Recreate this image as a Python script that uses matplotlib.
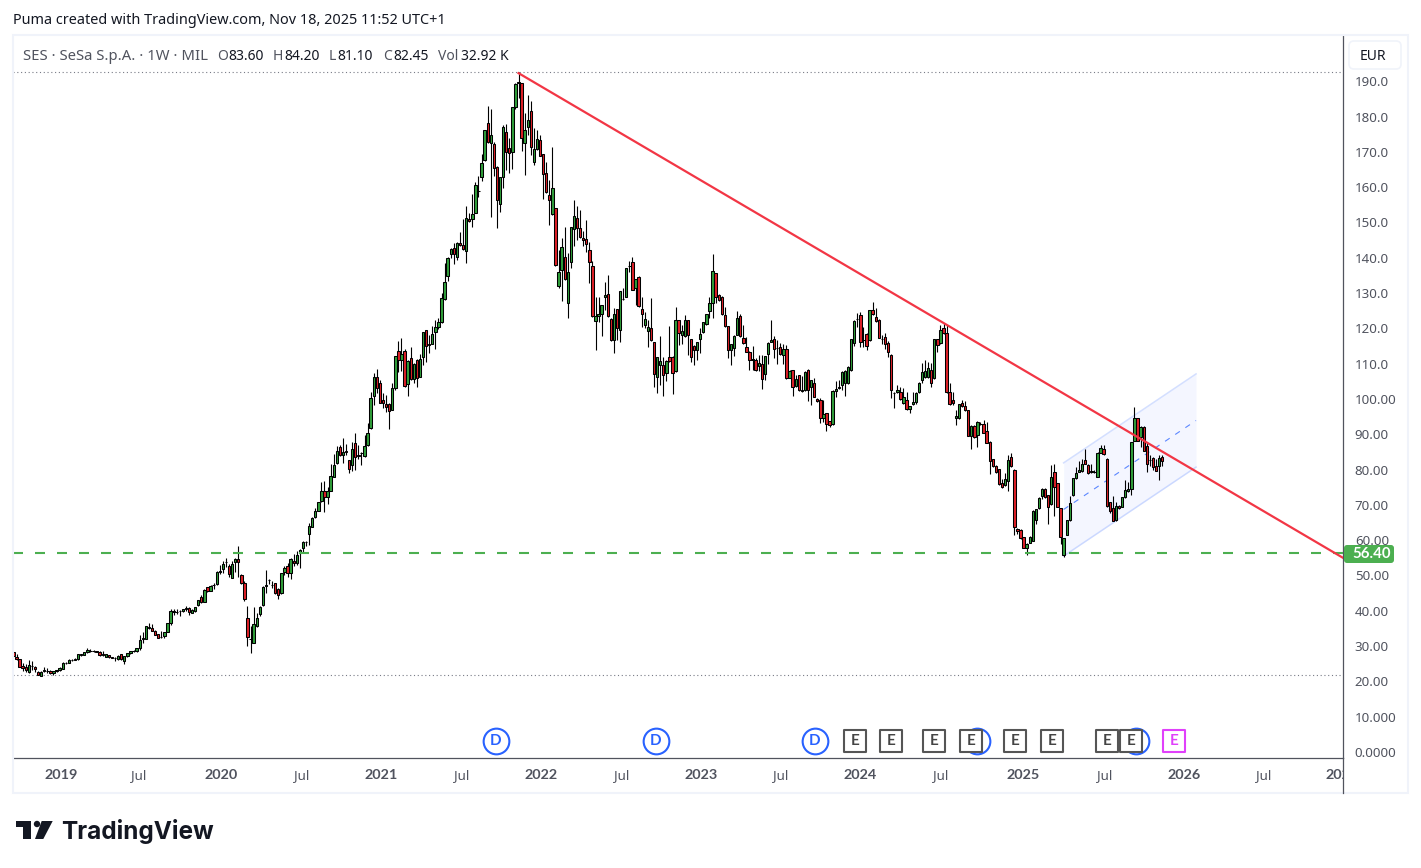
import matplotlib
matplotlib.use('Agg')
import matplotlib.pyplot as plt
import matplotlib.dates as mdates
import numpy as np
import pandas as pd
from matplotlib.lines import Line2D
from matplotlib.markers import MarkerStyle
from matplotlib.patches import Circle, FancyBboxPatch, Polygon, Rectangle
from matplotlib.transforms import Bbox, IdentityTransform, TransformedBbox

plt.rcParams['font.family'] = ['Noto Sans', 'DejaVu Sans']
BOLD_FONT = ['Lato', 'DejaVu Sans']

W, H = 1421, 868

# Weekly OHLC, oldest first
opens = [
    29.0, 28.2, 26.8, 26.3, 24.3, 24.2, 22.8, 24.3, 24.2, 22.8, 21.6, 23.0, 23.0, 23.0, 22.3,
    22.9, 23.1, 23.6, 25.2, 25.3, 26.0, 26.2, 26.3, 27.5, 27.5, 28.2, 28.6, 28.6, 28.5, 28.4,
    27.9, 27.0, 27.4, 26.8, 26.6, 26.4, 27.7, 25.9, 27.1, 28.0, 28.6, 28.6, 29.5, 32.0, 32.0,
    35.2, 35.0, 34.4, 33.3, 32.6, 32.8, 34.0, 36.4, 39.7, 39.7, 39.8, 39.8, 40.5, 40.9, 39.5,
    39.8, 41.5, 43.9, 42.6, 46.6, 45.7, 47.2, 47.5, 51.0, 51.9, 53.8, 52.8, 49.4, 53.9, 54.8,
    50.1, 47.8, 38.0, 31.9, 31.0, 35.7, 39.0, 41.5, 47.1, 48.6, 47.2, 47.8, 46.1, 44.9, 51.0,
    52.6, 50.6, 54.1, 53.6, 56.3, 57.9, 59.6, 61.8, 63.8, 66.6, 68.4, 71.2, 73.8, 72.1, 74.0,
    78.0, 81.8, 86.5, 84.0, 85.4, 82.6, 81.2, 87.4, 84.0, 84.8, 83.8, 86.9, 91.7, 100.8, 106.1,
    104.4, 99.6, 98.7, 98.7, 97.0, 103.0, 113.5, 111.0, 113.5, 104.3, 111.5, 105.6, 111.0, 106.3, 112.0,
    119.4, 115.5, 115.7, 118.9, 120.3, 121.7, 128.3, 134.8, 141.2, 142.9, 140.1, 144.1, 143.5, 141.8, 151.1,
    150.9, 152.8, 159.0, 162.8, 167.7, 178.1, 172.4, 172.1, 165.8, 155.1, 163.0, 175.5, 171.0, 170.0, 182.8,
    189.6, 189.4, 172.6, 177.0, 181.5, 167.0, 170.7, 173.3, 169.3, 163.9, 157.7, 152.3, 154.0, 132.0, 136.5,
    140.1, 127.1, 138.7, 148.1, 151.2, 148.3, 145.5, 145.2, 142.1, 137.6, 122.0, 123.4, 124.0, 128.8, 129.6,
    122.6, 116.6, 125.4, 119.5, 128.4, 129.0, 137.8, 138.7, 131.3, 134.5, 125.4, 121.0, 119.2, 120.0, 116.0,
    106.1, 109.7, 109.5, 107.3, 112.0, 112.0, 107.8, 122.3, 118.0, 117.8, 122.3, 116.9, 114.9, 114.0, 116.9,
    118.9, 121.1, 124.8, 127.1, 135.6, 129.4, 129.0, 123.7, 120.6, 114.0, 114.3, 118.2, 123.4, 117.2, 114.7,
    113.4, 111.2, 110.9, 109.3, 109.9, 107.0, 112.7, 116.1, 116.9, 114.4, 114.7, 112.4, 114.1, 106.0, 108.1,
    103.6, 106.7, 102.3, 102.5, 108.1, 103.3, 104.5, 100.1, 99.8, 94.5, 95.9, 93.7, 92.8, 102.2, 103.0,
    103.9, 104.5, 104.5, 108.2, 115.8, 122.7, 123.7, 116.7, 118.3, 116.7, 125.1, 123.2, 122.3, 116.9, 117.5,
    115.8, 112.4, 101.8, 102.0, 102.1, 98.8, 99.6, 97.1, 98.5, 99.1, 101.9, 105.3, 106.2, 106.2, 108.1,
    105.9, 116.9, 115.8, 120.0, 118.6, 101.9, 99.6, 94.5, 94.5, 98.8, 97.9, 96.8, 89.6, 92.3, 89.7,
    92.8, 92.8, 90.9, 87.9, 82.9, 81.0, 80.1, 76.1, 75.6, 76.7, 83.5, 80.0, 63.3, 63.0, 60.8,
    57.9, 59.3, 59.9, 65.6, 69.0, 72.4, 74.5, 72.7, 70.3, 79.2, 76.1, 69.0, 55.9, 61.6, 65.6,
    72.7, 77.5, 79.4, 79.5, 82.6, 81.4, 79.2, 79.3, 78.0, 84.8, 85.7, 83.1, 70.7, 69.0, 65.6,
    69.8, 69.5, 72.1, 73.8, 74.4, 88.2, 94.5, 89.1, 92.2, 86.8, 82.7, 83.4, 80.9, 80.9, 83.6,
]
highs = [
    29.2, 28.3, 27.9, 26.4, 25.2, 25.0, 26.2, 25.8, 24.5, 23.0, 22.9, 24.1, 23.9, 23.1, 23.0,
    23.2, 24.0, 25.4, 25.5, 26.4, 26.3, 26.5, 27.8, 27.9, 28.3, 29.5, 29.3, 28.8, 28.7, 28.6,
    28.6, 27.8, 27.6, 26.9, 27.0, 27.4, 27.8, 27.2, 28.1, 28.7, 28.9, 29.6, 33.2, 34.0, 35.8,
    36.4, 36.2, 34.6, 33.5, 34.2, 34.1, 36.5, 40.6, 40.6, 40.4, 40.1, 40.6, 41.3, 41.1, 40.4,
    41.2, 43.1, 44.5, 46.2, 46.8, 47.2, 48.0, 51.2, 53.0, 54.2, 55.0, 53.3, 54.0, 55.0, 58.3,
    50.5, 48.5, 41.4, 35.7, 41.0, 39.5, 41.3, 46.9, 51.5, 49.0, 48.5, 48.0, 46.4, 50.6, 52.8,
    53.5, 54.9, 56.0, 57.0, 57.6, 59.8, 59.8, 65.0, 66.5, 69.0, 70.8, 76.5, 76.8, 75.0, 81.6,
    84.5, 86.6, 87.0, 89.0, 87.2, 82.8, 87.8, 90.3, 87.0, 85.0, 89.9, 93.1, 102.0, 107.3, 108.5,
    105.5, 101.7, 101.0, 99.0, 104.4, 112.3, 116.5, 117.2, 114.2, 110.9, 114.8, 110.2, 111.2, 112.6, 119.1,
    119.6, 118.0, 120.6, 122.4, 123.0, 130.0, 138.6, 140.3, 142.8, 144.3, 144.5, 147.2, 151.0, 154.6, 152.8,
    158.0, 161.5, 163.1, 169.4, 176.3, 183.0, 182.0, 172.9, 166.0, 163.0, 177.6, 178.0, 173.8, 182.8, 189.6,
    192.7, 189.6, 180.9, 186.1, 184.3, 176.7, 176.2, 174.8, 169.5, 167.2, 162.0, 171.3, 154.2, 142.2, 145.5,
    148.6, 141.3, 148.8, 156.3, 154.7, 153.5, 147.6, 150.7, 144.4, 139.1, 129.0, 129.0, 126.7, 133.0, 135.1,
    122.8, 125.7, 125.6, 130.7, 131.4, 137.2, 139.0, 140.1, 134.1, 134.7, 129.0, 124.7, 122.4, 128.5, 116.2,
    112.0, 117.7, 112.0, 110.9, 120.6, 112.2, 126.0, 122.5, 121.0, 123.7, 122.5, 117.1, 115.2, 116.2, 120.0,
    121.9, 124.2, 129.0, 141.1, 135.8, 129.6, 129.2, 126.0, 120.8, 115.7, 118.0, 124.8, 124.0, 121.0, 117.5,
    113.6, 114.9, 111.5, 112.5, 112.5, 112.3, 116.0, 122.4, 117.9, 116.7, 115.8, 115.5, 115.3, 108.2, 108.3,
    106.8, 106.9, 106.4, 107.8, 108.4, 105.5, 105.9, 100.4, 100.2, 99.7, 96.1, 93.9, 102.4, 105.0, 105.4,
    107.8, 108.1, 109.4, 117.1, 122.4, 124.3, 124.7, 120.3, 118.8, 125.3, 127.4, 125.7, 122.6, 118.0, 118.7,
    116.3, 112.6, 102.0, 104.0, 103.5, 103.0, 102.1, 98.1, 102.0, 102.1, 104.7, 110.1, 111.0, 110.6, 110.1,
    117.1, 117.1, 121.0, 121.5, 121.0, 104.5, 102.1, 96.8, 98.7, 99.7, 99.3, 97.0, 92.5, 92.5, 93.8,
    93.4, 94.0, 93.6, 88.1, 83.1, 81.2, 80.3, 77.3, 79.0, 84.2, 84.8, 80.2, 63.5, 63.2, 61.0,
    59.2, 61.2, 68.6, 68.9, 72.2, 74.7, 74.9, 72.9, 81.3, 81.7, 76.3, 69.2, 60.7, 65.8, 72.6,
    77.7, 80.8, 82.5, 82.9, 85.7, 81.6, 81.7, 79.9, 85.0, 86.9, 86.9, 83.3, 70.9, 72.5, 70.9,
    70.0, 72.3, 77.0, 76.5, 87.9, 97.6, 94.7, 92.4, 92.4, 87.4, 84.1, 83.6, 83.1, 84.1, 84.2,
]
lows = [
    28.0, 26.9, 26.0, 24.1, 22.9, 22.7, 22.4, 23.2, 22.6, 21.8, 21.4, 22.6, 22.5, 22.2, 21.8,
    22.6, 23.0, 23.4, 25.0, 25.2, 25.8, 26.0, 26.2, 27.3, 27.4, 28.0, 28.4, 28.4, 28.2, 27.3,
    27.3, 26.8, 26.7, 26.5, 25.8, 26.2, 26.1, 24.8, 27.0, 27.8, 28.4, 28.4, 29.0, 31.0, 31.9,
    34.7, 34.2, 33.0, 32.3, 32.3, 32.3, 33.9, 36.0, 38.8, 39.0, 38.5, 39.6, 39.8, 38.9, 39.3,
    39.6, 41.3, 42.2, 42.4, 45.4, 45.5, 46.2, 47.3, 50.5, 50.8, 52.5, 49.5, 49.2, 51.0, 49.5,
    47.6, 42.9, 30.0, 28.0, 31.0, 35.5, 38.5, 41.3, 45.0, 47.5, 46.5, 44.7, 43.2, 44.7, 50.0,
    49.5, 49.0, 52.8, 52.9, 52.0, 56.5, 58.3, 58.6, 63.6, 66.4, 68.2, 70.7, 68.0, 70.3, 73.8,
    77.8, 81.6, 83.8, 81.8, 84.0, 79.0, 79.7, 79.9, 83.0, 81.2, 83.6, 86.7, 91.5, 98.4, 101.6,
    98.8, 97.4, 96.3, 91.6, 96.8, 102.4, 107.5, 108.0, 103.5, 100.9, 105.4, 104.5, 103.5, 106.1, 109.7,
    110.5, 113.0, 115.5, 114.2, 119.7, 121.5, 128.1, 133.5, 139.8, 138.1, 139.5, 143.3, 142.2, 138.4, 150.1,
    148.8, 152.6, 157.3, 161.8, 167.3, 172.5, 151.5, 163.2, 148.5, 153.0, 159.7, 164.9, 164.1, 165.1, 182.0,
    185.3, 170.3, 163.5, 174.8, 169.1, 166.3, 170.5, 168.7, 156.7, 158.3, 149.4, 152.0, 137.7, 131.5, 127.7,
    133.7, 122.9, 137.2, 143.3, 145.0, 145.6, 143.2, 141.7, 132.8, 123.2, 114.0, 121.8, 117.9, 125.2, 123.2,
    116.4, 113.1, 116.7, 116.2, 128.0, 128.8, 136.0, 130.8, 126.6, 126.0, 120.5, 120.0, 114.8, 116.4, 103.5,
    101.8, 104.0, 100.9, 105.2, 110.5, 101.4, 107.6, 115.2, 115.6, 117.6, 112.5, 110.6, 109.6, 111.0, 113.0,
    118.7, 120.9, 122.9, 122.9, 127.1, 127.8, 123.8, 120.5, 111.5, 109.6, 112.2, 118.0, 117.6, 115.6, 113.2,
    108.2, 108.2, 108.0, 107.8, 102.9, 105.4, 110.0, 116.0, 111.5, 110.0, 112.5, 110.0, 105.6, 105.8, 100.9,
    103.4, 102.3, 102.1, 102.3, 99.3, 98.3, 100.5, 99.2, 93.1, 93.6, 91.0, 92.0, 92.6, 100.5, 102.8,
    102.6, 100.9, 104.3, 108.0, 114.9, 120.5, 114.6, 114.6, 114.0, 116.5, 123.8, 121.8, 117.2, 115.5, 114.1,
    111.8, 100.2, 97.4, 101.7, 99.8, 98.6, 96.9, 96.0, 98.3, 98.5, 101.7, 104.5, 106.0, 106.0, 103.3,
    105.7, 113.4, 115.6, 118.4, 101.7, 98.3, 98.4, 92.5, 94.3, 97.7, 96.6, 89.4, 85.8, 89.0, 86.3,
    92.6, 90.3, 87.4, 78.7, 80.8, 79.1, 75.6, 74.7, 75.4, 74.0, 80.8, 61.4, 61.7, 60.3, 57.7,
    55.7, 59.1, 59.7, 64.5, 68.8, 71.8, 71.9, 64.7, 70.1, 66.8, 69.3, 59.0, 55.3, 61.4, 65.4,
    72.5, 77.3, 79.2, 79.3, 81.5, 78.7, 79.0, 78.9, 77.8, 84.6, 84.1, 69.5, 67.6, 65.3, 65.4,
    68.8, 69.3, 71.9, 73.6, 72.8, 88.0, 88.0, 86.3, 85.2, 79.2, 81.0, 79.8, 79.6, 77.0, 81.1,
]
closes = [
    28.6, 27.2, 26.3, 24.2, 23.7, 23.1, 24.6, 24.4, 23.6, 21.9, 22.8, 23.1, 22.9, 22.3, 22.9,
    23.1, 23.7, 25.1, 25.3, 26.0, 26.2, 26.3, 27.7, 27.8, 28.2, 28.8, 28.7, 28.5, 28.4, 27.4,
    27.4, 27.7, 26.8, 26.7, 26.5, 27.3, 26.3, 27.1, 28.0, 28.6, 28.7, 29.5, 31.7, 32.2, 35.6,
    35.3, 34.4, 33.2, 32.4, 32.7, 34.0, 36.4, 39.8, 39.8, 39.6, 39.9, 40.5, 40.9, 39.7, 40.3,
    41.0, 43.0, 42.4, 46.0, 45.6, 47.0, 47.3, 51.1, 51.4, 53.2, 53.9, 50.4, 53.2, 54.8, 53.9,
    47.8, 43.2, 32.7, 32.0, 36.2, 38.0, 41.0, 46.6, 47.2, 48.7, 47.3, 44.9, 44.4, 50.6, 52.0,
    50.6, 54.8, 53.6, 55.8, 57.2, 59.6, 59.6, 63.9, 66.4, 68.2, 70.7, 73.8, 72.1, 73.8, 78.1,
    81.2, 85.3, 84.0, 84.9, 84.9, 80.3, 85.7, 83.5, 83.9, 84.8, 86.6, 90.5, 100.2, 106.1, 103.0,
    99.0, 98.8, 97.8, 96.7, 103.0, 112.1, 111.0, 112.6, 103.8, 110.7, 105.6, 110.0, 105.8, 111.2, 118.9,
    114.9, 115.4, 118.4, 120.3, 121.7, 128.5, 133.0, 140.0, 142.6, 141.0, 144.3, 143.5, 142.4, 151.4, 150.3,
    152.3, 160.5, 159.0, 166.8, 176.1, 172.7, 174.7, 165.3, 156.4, 162.8, 177.0, 170.0, 169.6, 182.6, 189.1,
    189.7, 174.0, 176.3, 179.0, 171.5, 170.7, 173.6, 168.9, 163.6, 158.5, 156.3, 159.7, 137.9, 135.9, 143.0,
    133.9, 135.9, 148.6, 151.7, 148.3, 145.8, 145.0, 144.0, 138.7, 123.4, 123.4, 124.0, 126.5, 129.4, 123.4,
    116.6, 124.0, 120.0, 130.5, 128.4, 137.0, 137.8, 131.0, 133.9, 126.2, 124.0, 122.6, 120.3, 116.6, 107.0,
    111.8, 110.7, 106.7, 110.7, 110.7, 107.3, 122.3, 118.6, 119.2, 122.3, 118.0, 111.8, 113.8, 116.0, 118.3,
    121.7, 124.0, 127.1, 136.2, 128.8, 128.0, 124.0, 120.6, 114.0, 115.5, 117.8, 122.9, 117.8, 115.8, 113.4,
    110.9, 111.1, 108.2, 110.3, 105.7, 112.1, 115.8, 116.7, 114.1, 114.4, 112.7, 114.1, 105.8, 108.0, 103.3,
    105.7, 102.5, 102.5, 107.6, 102.5, 105.3, 100.7, 99.4, 94.5, 95.7, 92.8, 92.6, 102.2, 102.9, 103.3,
    107.6, 107.9, 109.0, 116.9, 122.0, 122.7, 116.1, 116.6, 114.9, 125.1, 124.0, 122.0, 117.4, 117.0, 115.5,
    113.2, 102.5, 101.8, 102.5, 100.0, 100.5, 97.1, 97.9, 99.1, 101.6, 104.5, 107.6, 107.9, 108.7, 104.5,
    116.9, 115.2, 119.5, 118.6, 101.9, 98.5, 98.8, 95.1, 98.5, 97.9, 96.8, 89.6, 92.3, 89.2, 93.4,
    93.0, 90.5, 87.6, 82.4, 81.0, 79.3, 75.8, 75.0, 77.3, 82.6, 81.0, 63.6, 62.7, 60.5, 57.9,
    59.0, 61.0, 68.4, 68.7, 72.0, 74.4, 72.1, 69.5, 77.8, 75.0, 69.5, 60.8, 60.5, 65.6, 70.4,
    77.5, 78.9, 80.0, 81.7, 81.7, 78.9, 79.5, 79.3, 84.8, 86.0, 84.3, 69.7, 68.4, 65.5, 69.8,
    69.0, 72.1, 74.1, 74.4, 87.7, 94.5, 88.2, 92.2, 85.4, 81.7, 82.7, 80.6, 79.7, 83.4, 82.45,
]

last_bar = '2025-11-17'
x_start, x_end = '2018-09-23', '2027-01-02'

price_ticks = [190, 180, 170, 160, 150, 140, 130, 120, 110, 100, 90, 80, 70, 60, 50, 40, 30, 20, 10, 0]
price_labels = ['190.0', '180.0', '170.0', '160.0', '150.0', '140.0', '130.0', '120.0', '110.0', '100.00',
                '90.00', '80.00', '70.00', '60.00', '50.00', '40.00', '30.00', '20.00', '10.000', '0.0000']

time_ticks = ['2019-01-11', '2019-07-05', '2020-01-09', '2020-07-10', '2021-01-07', '2021-07-09',
              '2022-01-06', '2022-07-08', '2023-01-05', '2023-07-05', '2024-01-01', '2024-07-01',
              '2025-01-06', '2025-07-10', '2026-01-05', '2026-07-06', '2027-01-01']
time_labels = ['2019', 'Jul', '2020', 'Jul', '2021', 'Jul', '2022', 'Jul', '2023', 'Jul', '2024', 'Jul',
               '2025', 'Jul', '2026', 'Jul', '2027']

# Drawings on the chart
support_level = 56.40
range_high, range_low = 192.5, 21.8
trend_dates = ['2021-11-15', '2027-01-02']
trend_prices = [192.3, 55.0]
channel_dates = ['2025-04-07', '2026-02-02']
channel_top = [81.9, 107.1]
channel_mid = [68.7, 93.9]
channel_bottom = [55.5, 80.7]

# Dividend and earnings markers along the bottom
dividend_dates = ['2021-09-24', '2022-09-23', '2023-09-20', '2024-09-23', '2025-09-19']
dividend_covered = ['2024-09-23', '2025-09-19']
earnings_dates = ['2023-12-20', '2024-03-11', '2024-06-17', '2024-09-09', '2024-12-18',
                  '2025-03-12', '2025-07-14', '2025-09-08']
next_earnings = '2025-12-15'
marker_price = 3.1

COL_UP = '#2f9e3a'
COL_DOWN = '#dd2027'
COL_TEXT = '#50535e'
COL_FRAME = '#f0f3fa'


def px_text(x, y, s, **kw):
    kw.setdefault('va', 'center')
    return fig.text(x / W, 1 - y / H, s, **kw)


fig = plt.figure(figsize=(W / 100, H / 100), dpi=100, facecolor='white')
ax = fig.add_axes([13 / W, (H - 758) / H, 1330 / W, 723 / H])

# Candles
dates = pd.date_range(end=last_bar, periods=len(closes), freq='7D')
x = mdates.date2num(dates)
o, h, l, c = map(np.array, (opens, highs, lows, closes))
up = c >= o
ax.vlines(x, l, h, color='black', lw=0.8, zorder=3)
ax.bar(x, np.abs(c - o), bottom=np.minimum(o, c), width=5.4,
       color=np.where(up, COL_UP, COL_DOWN), edgecolor='black', linewidth=0.75, zorder=4)

# Parallel channel
cx = mdates.datestr2num(channel_dates)
ax.fill_between(cx, channel_bottom, channel_top, color='#2962ff', alpha=0.05, lw=0, zorder=1)
ax.plot(cx, channel_top, color='#2962ff', alpha=0.2, lw=1.1, zorder=2)
ax.plot(cx, channel_bottom, color='#2962ff', alpha=0.2, lw=1.1, zorder=2)
ax.plot(cx, channel_mid, color='#2962ff', alpha=0.75, lw=0.8, ls=(0, (5, 6)), zorder=2)

# Horizontal levels and the trendline
ax.axhline(range_high, color='#787b86', lw=0.8, ls=(0, (1, 2.4)), zorder=2)
ax.axhline(range_low, color='#787b86', lw=0.8, ls=(0, (1, 2.4)), zorder=2)
ax.axhline(support_level, color='#4caf50', lw=1.5, ls=(0, (4.8, 5.76)), zorder=5)
ax.plot(mdates.datestr2num(trend_dates), trend_prices, color='#f23645', lw=1.6, zorder=5)

# Event markers, the letter is left off a dividend that sits under an earnings box
for d in dividend_dates:
    dx = mdates.datestr2num(d)
    ax.plot([dx], [marker_price], 'o', ms=18.5, mfc='white', mec='#2962ff', mew=1.5, zorder=6)
    if d not in dividend_covered:
        ax.text(dx, marker_price, 'D', color='#2962ff', fontsize=11, fontweight='bold',
                family=BOLD_FONT, ha='center', va='center', zorder=6)
box = MarkerStyle('s', joinstyle='round')
for d in earnings_dates:
    dx = mdates.datestr2num(d)
    ax.plot([dx], [marker_price], marker=box, ms=15.5, mfc='white', mec='#555555', mew=1.5, zorder=7)
    ax.text(dx, marker_price, 'E', color='#444444', fontsize=11, fontweight='bold',
            family=BOLD_FONT, ha='center', va='center', zorder=7)
dx = mdates.datestr2num(next_earnings)
ax.plot([dx], [marker_price], marker=box, ms=15.5, mfc='white', mec='#e040fb', mew=1.5, zorder=7)
ax.text(dx, marker_price, 'E', color='#e040fb', fontsize=11, fontweight='bold',
        family=BOLD_FONT, ha='center', va='center', zorder=7)

# Axes
ax.set_xlim(mdates.datestr2num(x_start), mdates.datestr2num(x_end))
ax.set_ylim(-1.7, 203.1)
ax.yaxis.tick_right()
ax.set_yticks(price_ticks)
ax.set_yticklabels(price_labels, fontsize=9.6, color=COL_TEXT)
ax.tick_params(axis='y', length=0, pad=8.5)
ax.set_xticks(mdates.datestr2num(time_ticks))
ax.set_xticklabels(time_labels, fontsize=9.6, color=COL_TEXT)
ax.tick_params(axis='x', length=0, pad=8.2)
time_clip = TransformedBbox(Bbox([[13, 0], [1343, H]]), IdentityTransform())
for lab in ax.get_xticklabels():
    lab.set_clip_on(True)
    lab.set_clip_box(time_clip)
    if lab.get_text() != 'Jul':
        lab.set_family(BOLD_FONT)
        lab.set_fontweight('bold')
        lab.set_fontsize(10.4)
for side in ('top', 'left'):
    ax.spines[side].set_visible(False)
for side in ('right', 'bottom'):
    ax.spines[side].set_color(COL_TEXT)
    ax.spines[side].set_linewidth(0.9)

# Frame and price scale furniture
fig.add_artist(Rectangle((13 / W, (H - 793) / H), 1395 / W, 758 / H, fill=False,
                         ec=COL_FRAME, lw=1.5, transform=fig.transFigure))
fig.add_artist(Line2D([1343 / W, 1343 / W], [(H - 793) / H, (H - 758) / H], color=COL_TEXT, lw=0.9))
fig.add_artist(FancyBboxPatch((1349, H - 69), 52, 28, boxstyle='round,pad=0,rounding_size=5',
                              fc='white', ec=COL_FRAME, lw=1.2, transform=IdentityTransform()))
px_text(1373, 56.5, 'EUR', fontsize=10, color='#131722', ha='center')
fig.add_artist(FancyBboxPatch((1344, H - 563), 50, 18, boxstyle='round,pad=0,rounding_size=3',
                              fc='#4caf50', ec='none', transform=IdentityTransform(), zorder=8))
px_text(1372, 554.5, '56.40', fontsize=10.8, fontweight='bold', family=BOLD_FONT,
        color='white', ha='center', zorder=9)

# Header and legend
px_text(13, 21, 'Puma created with TradingView.com, Nov 18, 2025 11:52 UTC+1', fontsize=10.4, color='#131722')
px_text(23, 56, 'SES · SeSa S.p.A. · 1W · MIL', fontsize=10.7, color=COL_TEXT)
for tx, s, col in [(217, 'O', COL_TEXT), (228, '83.60', '#131722'),
                   (273, 'H', COL_TEXT), (284, '84.20', '#131722'),
                   (329, 'L', COL_TEXT), (337, '81.10', '#131722'),
                   (383, 'C', COL_TEXT), (393, '82.45', '#131722'),
                   (438, 'Vol', COL_TEXT), (461, '32.92 K', '#131722')]:
    px_text(tx, 56, s, fontsize=10, color=col)

# Logo
logo = dict(fc='#131722', ec='none', transform=IdentityTransform())
fig.add_artist(Polygon([(15.5, H - 821), (30.7, H - 821), (30.7, H - 839), (23.3, H - 839),
                        (23.3, H - 827), (15.5, H - 827)], **logo))
fig.add_artist(Circle((37, H - 824), 3.2, **logo))
fig.add_artist(Polygon([(41.7, H - 821), (52.7, H - 821), (43.3, H - 839), (35, H - 839)], **logo))
px_text(61, 831, 'TradingView', fontsize=17.5, fontweight='bold', color='#131722',
        family=['Inter', 'DejaVu Sans'])

fig.savefig('out.png', dpi=100)
